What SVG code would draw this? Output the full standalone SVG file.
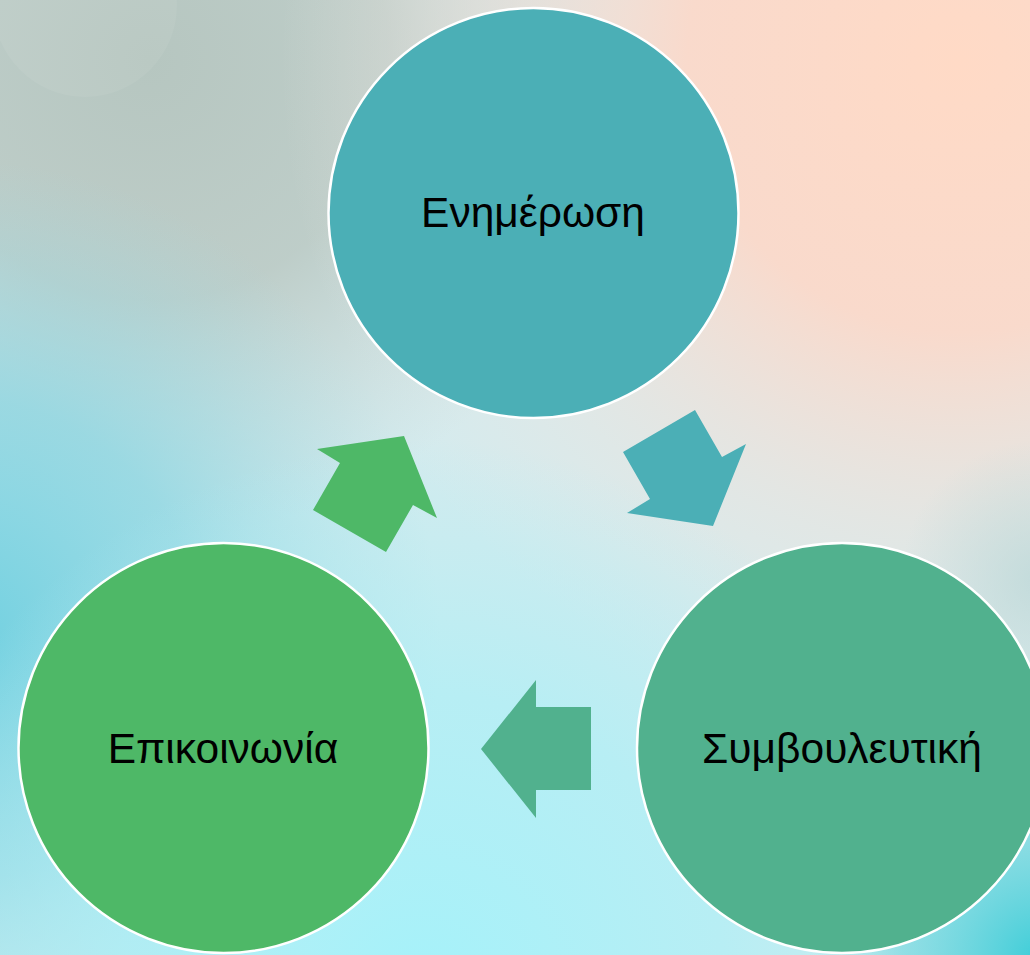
<svg xmlns="http://www.w3.org/2000/svg" width="1030" height="955" viewBox="0 0 1030 955">
<defs>
<radialGradient id="gPeach" cx="960" cy="60" r="680" gradientUnits="userSpaceOnUse">
<stop offset="0" stop-color="#ffdac6"/><stop offset="0.4" stop-color="#fbd9ca" stop-opacity="0.95"/><stop offset="0.7" stop-color="#f2e2da" stop-opacity="0.5"/><stop offset="1" stop-color="#f0e8e4" stop-opacity="0"/>
</radialGradient>
<radialGradient id="gGray" cx="150" cy="60" r="480" gradientUnits="userSpaceOnUse">
<stop offset="0" stop-color="#b6c6c0"/><stop offset="0.5" stop-color="#bac8c2" stop-opacity="0.85"/><stop offset="1" stop-color="#c4d0cc" stop-opacity="0"/>
</radialGradient>
<radialGradient id="gCyanL" cx="-40" cy="640" r="480" gradientUnits="userSpaceOnUse">
<stop offset="0" stop-color="#70d0e0"/><stop offset="0.5" stop-color="#8ad6e2" stop-opacity="0.75"/><stop offset="1" stop-color="#a0dce4" stop-opacity="0"/>
</radialGradient>
<radialGradient id="gBottom" cx="420" cy="1000" r="560" gradientUnits="userSpaceOnUse">
<stop offset="0" stop-color="#a4f2fa"/><stop offset="0.55" stop-color="#aeeff6" stop-opacity="0.75"/><stop offset="1" stop-color="#b0eef4" stop-opacity="0"/>
</radialGradient>
<radialGradient id="gCyanR" cx="1040" cy="960" r="230" gradientUnits="userSpaceOnUse">
<stop offset="0" stop-color="#3ccdd8"/><stop offset="0.6" stop-color="#6cd6de" stop-opacity="0.6"/><stop offset="1" stop-color="#90dde2" stop-opacity="0"/>
</radialGradient>
<radialGradient id="gMidR" cx="1040" cy="580" r="140" gradientUnits="userSpaceOnUse">
<stop offset="0" stop-color="#bcd8d8" stop-opacity="0.8"/><stop offset="1" stop-color="#bcd8d8" stop-opacity="0"/>
</radialGradient>
<style>
.node circle{stroke:#ffffff;stroke-width:2.5}
.lbl{font-family:"Liberation Sans",Arial,"DejaVu Sans",sans-serif;font-size:42.5px;fill:#000000;text-anchor:middle}
</style>
</defs>
<g id="background">
<rect width="1030" height="955" fill="#d3ebee"/>
<rect width="1030" height="955" fill="url(#gGray)"/>
<rect width="1030" height="955" fill="url(#gPeach)"/>
<rect width="1030" height="955" fill="url(#gCyanL)"/>
<rect width="1030" height="955" fill="url(#gBottom)"/>
<rect width="1030" height="955" fill="url(#gMidR)"/>
<rect width="1030" height="955" fill="url(#gCyanR)"/>
<circle cx="85" cy="5" r="92" fill="#ffffff" opacity="0.06"/>
</g>
<g id="connectors">
<polygon id="arrow-top-right" fill="#4bafb6" points="623,452 695,410 722,457 746,444 713,526 627,513 650,499"/>
<polygon id="arrow-bottom" fill="#51b18e" points="481,749 536,680 536,707 591,707 591,790 536,790 536,818"/>
<polygon id="arrow-left-up" fill="#4eb867" points="404,436 437,518 413,505 386,552 313,510 340,463 317,449"/>
</g>
<g id="node-enimerosi" class="node">
<circle cx="533.5" cy="213" r="205" fill="#4bafb6"/>
<text class="lbl" x="533" y="227">Ενημέρωση</text>
</g>
<g id="node-symvouleftiki" class="node">
<circle cx="842" cy="748" r="205" fill="#51b18e"/>
<text class="lbl" x="842" y="763">Συμβουλευτική</text>
</g>
<g id="node-epikoinonia" class="node">
<circle cx="223.5" cy="748" r="205" fill="#4eb867"/>
<text class="lbl" x="223" y="763">Επικοινωνία</text>
</g>
</svg>
